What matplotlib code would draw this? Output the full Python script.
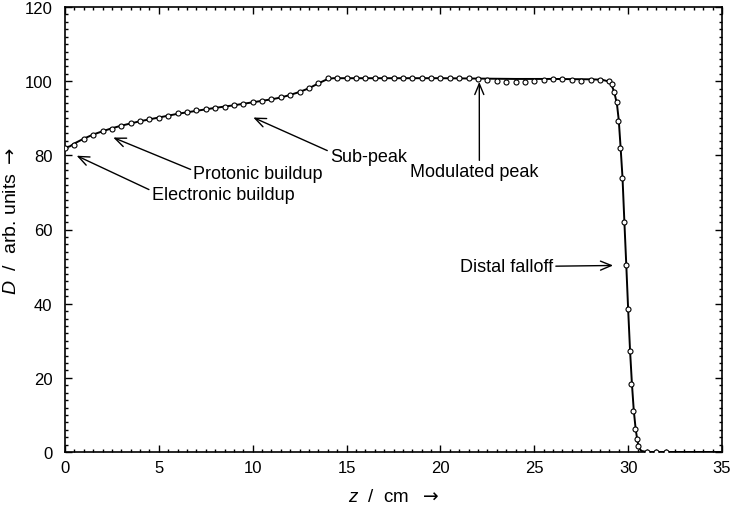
import matplotlib
matplotlib.use("Agg")
import matplotlib.pyplot as plt
from matplotlib.ticker import MultipleLocator

plt.rcParams['font.family'] = ['Liberation Sans', 'DejaVu Sans']
plt.rcParams['mathtext.fontset'] = 'custom'
plt.rcParams['mathtext.it'] = 'Liberation Sans:italic'
plt.rcParams['mathtext.rm'] = 'Liberation Sans'
plt.rcParams['mathtext.bf'] = 'DejaVu Sans'

# Calculated depth-dose curve (line)
line_z = [0, 0.25, 0.5, 1, 1.5, 2, 2.5, 3, 4, 5, 6, 7, 8, 9, 10, 11, 11.5, 12, 12.5,
          13, 13.5, 14, 14.3, 16, 18, 20, 22, 24, 26, 28, 28.6, 28.9, 29.1, 29.25,
          29.4, 29.5, 29.6, 29.7, 29.8, 29.9, 30.0, 30.1, 30.2, 30.3, 30.4, 30.5,
          30.6, 30.7, 31, 35]
line_d = [82.1, 82.4, 83.2, 84.5, 85.6, 86.5, 87.3, 88.0, 89.2, 90.2, 91.2, 92.0, 92.8,
          93.5, 94.3, 95.1, 95.6, 96.3, 97.1, 98.1, 99.4, 100.6, 100.8, 100.8, 100.8,
          100.8, 100.7, 100.6, 100.6, 100.5, 100.4, 100.0, 99.2, 97.2, 94.0, 89.5,
          82.0, 74.0, 62.0, 50.5, 38.5, 27.5, 18.5, 11.2, 6.2, 2.8, 1.0, 0.3, 0, 0]

# Measured points (open circles)
meas_z = [0, 0.5, 1.0, 1.5, 2.0, 2.5, 3.0, 3.5, 4.0, 4.5, 5.0, 5.5, 6.0, 6.5, 7.0, 7.5,
          8.0, 8.5, 9.0, 9.5, 10.0, 10.5, 11.0, 11.5, 12.0, 12.5, 13.0, 13.5, 14.0,
          14.5, 15.0, 15.5, 16.0, 16.5, 17.0, 17.5, 18.0, 18.5, 19.0, 19.5, 20.0, 20.5,
          21.0, 21.5, 22.0, 22.5, 23.0, 23.5, 24.0, 24.5, 25.0, 25.5, 26.0, 26.5, 27.0,
          27.5, 28.0, 28.5, 29.0, 29.13, 29.25, 29.39, 29.48, 29.59, 29.69, 29.80,
          29.89, 29.99, 30.08, 30.17, 30.28, 30.38, 30.45, 30.54, 31.0, 31.5, 32.0]
meas_d = [82.0, 82.8, 84.4, 85.5, 86.5, 87.2, 88.0, 88.7, 89.2, 89.7, 90.2, 90.7, 91.3,
          91.7, 92.1, 92.5, 92.8, 93.1, 93.5, 93.9, 94.3, 94.7, 95.1, 95.7, 96.4, 97.2,
          98.2, 99.5, 100.8, 100.8, 100.8, 100.8, 100.8, 100.8, 100.8, 100.8, 100.8,
          100.8, 100.8, 100.8, 100.8, 100.8, 100.8, 100.8, 100.7, 100.3, 100.0, 99.8,
          99.9, 99.9, 100.0, 100.4, 100.5, 100.7, 100.3, 100.1, 100.2, 100.2, 100.0,
          99.2, 97.0, 94.3, 89.3, 81.9, 73.9, 62.0, 50.5, 38.5, 27.2, 18.3, 11.1, 6.2,
          3.5, 1.7, 0.1, 0.0, 0.0]

x_ticks = [0, 5, 10, 15, 20, 25, 30, 35]
y_ticks = [0, 20, 40, 60, 80, 100, 120]

# Annotations: (label, arrow target z, D, text position z, D, ha, relpos)
ann_labels = ["Electronic buildup", "Protonic buildup", "Sub-peak", "Modulated peak", "Distal falloff"]
ann_xy = [(0.62, 79.9), (2.57, 84.8), (10.03, 90.2), (22.07, 99.8), (29.2, 50.3)]
ann_text = [(4.62, 69.5), (6.84, 75.2), (14.12, 79.8), (21.8, 75.6), (26.0, 50.1)]
ann_ha = ['left', 'left', 'left', 'center', 'right']
ann_rel = [(0, 0.7), (0, 0.65), (0, 0.75), (0.54, 1.0), (1, 0.5)]

fig = plt.figure(figsize=(7.33, 5.06), dpi=100)
ax = fig.add_axes([65/733, 1 - 453/506, (722-65)/733, (453-8)/506])

ax.plot(line_z, line_d, color='black', lw=1.4, zorder=3)
ax.plot(meas_z, meas_d, linestyle='none', marker='o', markersize=3.6,
        markerfacecolor='white', markeredgecolor='black', markeredgewidth=0.8, zorder=4)

ax.set_xlim(0, 35)
ax.set_ylim(0, 120)
ax.set_xticks(x_ticks)
ax.set_yticks(y_ticks)
ax.xaxis.set_minor_locator(MultipleLocator(0.5))
ax.yaxis.set_minor_locator(MultipleLocator(2))
ax.tick_params(which='both', direction='in', top=True, right=True, labelsize=12, width=1.0)
ax.tick_params(which='major', length=5)
ax.tick_params(which='minor', length=2.5)
ax.tick_params(axis='y', which='major', pad=9)
ax.tick_params(axis='x', which='major', pad=6)
for s in ax.spines.values():
    s.set_linewidth(1.2)

ax.set_xlabel(r"$z$  /  cm  $\mathbf{\rightarrow}$", fontsize=13.5)
ax.set_ylabel(r"$D$  /  arb. units $\mathbf{\rightarrow}$", fontsize=14)
ax.xaxis.set_label_coords(0.5, -0.08)
ax.yaxis.set_label_coords(-0.068, 0.52)

for lab, xy, xt, ha, rp in zip(ann_labels, ann_xy, ann_text, ann_ha, ann_rel):
    ax.annotate(lab, xy=xy, xytext=xt, ha=ha, va='center', fontsize=13,
                arrowprops=dict(arrowstyle='->,head_length=0.6,head_width=0.25',
                                color='black', lw=1.0, shrinkA=0, shrinkB=0, relpos=rp))

fig.savefig("out.png", dpi=100)
